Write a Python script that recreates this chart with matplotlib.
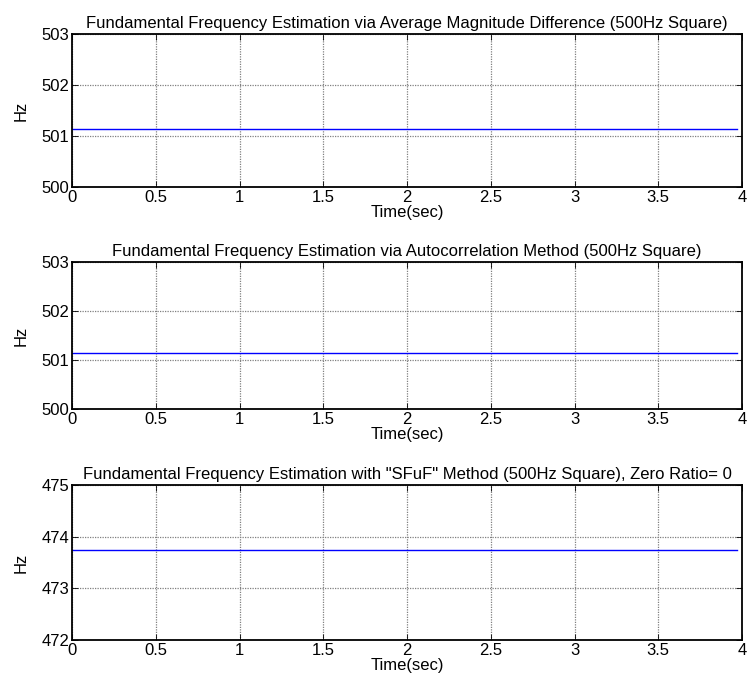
import matplotlib
matplotlib.use("Agg")
import matplotlib.pyplot as plt

# Pitch-track endpoints (seconds) and estimated fundamental frequency (Hz)
time_sec = [0.0, 3.97]
f0_amdf = [501.136, 501.136]
f0_acf = [501.136, 501.136]
f0_sfuf = [473.74, 473.74]

titles = [
    "Fundamental Frequency Estimation via Average Magnitude Difference (500Hz Square)",
    "Fundamental Frequency Estimation via Autocorrelation Method (500Hz Square)",
    'Fundamental Frequency Estimation with "SFuF" Method (500Hz Square), Zero Ratio= 0',
]
ylims = [(500, 503), (500, 503), (472, 475)]
xticks = [0, 0.5, 1, 1.5, 2, 2.5, 3, 3.5, 4]
xtick_labels = ["0", "0.5", "1", "1.5", "2", "2.5", "3", "3.5", "4"]

plt.rcParams["font.family"] = ["Liberation Sans", "DejaVu Sans"]

W, H = 749, 691
fig = plt.figure(figsize=(W / 100, H / 100), dpi=100)

# axes boxes in pixels: (left, top, right, bottom)
boxes = [(72, 34, 742, 187), (72, 262, 742, 409), (72, 485, 742, 640)]
series = [f0_amdf, f0_acf, f0_sfuf]

for box, f0, title, ylim in zip(boxes, series, titles, ylims):
    l, t, r, b = box
    ax = fig.add_axes([l / W, 1 - b / H, (r - l) / W, (b - t) / H])
    ax.plot(time_sec, f0, color="#0000ff", linewidth=1.0)
    ax.set_xlim(0, 4)
    ax.set_ylim(*ylim)
    ax.set_xticks(xticks)
    ax.set_xticklabels(xtick_labels)
    ax.set_yticks(range(ylim[0], ylim[1] + 1))
    ax.grid(True, color="#808080", linestyle=(0, (1, 1)), linewidth=0.9)
    ax.tick_params(direction="in", length=4, width=0.6, labelsize=12,
                   top=True, right=True, pad=2, colors="black")
    for s in ax.spines.values():
        s.set_linewidth(1.3)
    ax.set_title(title, fontsize=12, pad=4)
    ax.set_xlabel("Time(sec)", fontsize=12, labelpad=0)
    ax.set_ylabel("Hz", fontsize=12, labelpad=9)

fig.savefig("out.png", dpi=100)
